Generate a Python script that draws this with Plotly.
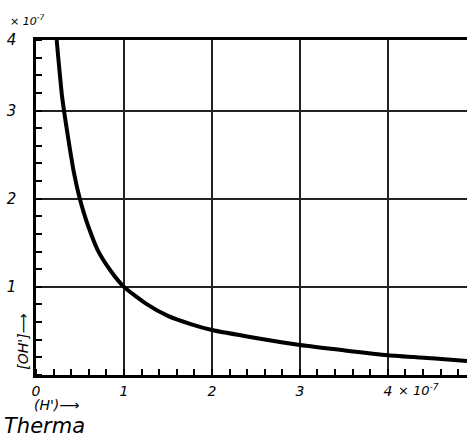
import plotly.graph_objects as go

# [H'] in units of 1e-7 and [OH'] in units of 1e-7
h_conc = [0.235, 0.255, 0.275, 0.295, 0.318, 0.37, 0.43, 0.49, 0.55, 0.6, 0.7, 0.85, 1.0,
          1.25, 1.5, 1.75, 2.0, 2.5, 3.0, 3.5, 4.0, 4.5, 4.9]
oh_conc = [3.8, 3.58, 3.37, 3.17, 3.0, 2.66, 2.3, 2.03, 1.82, 1.67, 1.42, 1.18, 1.0,
           0.81, 0.67, 0.58, 0.51, 0.42, 0.34, 0.28, 0.225, 0.19, 0.16]

x_tickvals = [0, 1, 2, 3, 4]
x_ticktext = ["0", "1", "2", "3", "4"]
y_tickvals = [1, 2, 3, 3.8]
y_ticktext = ["1", "2", "3", "4"]

FONT = "DejaVu Sans"

fig = go.Figure()
fig.add_trace(go.Scatter(
    x=h_conc, y=oh_conc, mode="lines",
    line=dict(color="black", width=4, shape="spline", smoothing=0.6),
    hoverinfo="skip", showlegend=False,
))

fig.update_layout(
    width=467, height=440,
    margin=dict(l=36, r=0, t=40, b=65, autoexpand=False),
    paper_bgcolor="white", plot_bgcolor="white",
    font=dict(family=FONT, color="black"),
    xaxis=dict(
        range=[0, 4.9], showline=True, linecolor="black", linewidth=2.5, mirror=True,
        showgrid=True, gridcolor="#222", gridwidth=1.8, zeroline=False, automargin=False,
        tickmode="array", tickvals=x_tickvals,
        ticktext=[f"<i>{t}</i>" for t in x_ticktext],
        ticks="", ticklabelstandoff=1,
        tickfont=dict(size=14, family=FONT),
        minor=dict(dtick=0.2, tick0=0, ticks="inside", ticklen=6, tickwidth=1.5,
                   tickcolor="black", showgrid=False),
    ),
    yaxis=dict(
        range=[0, 3.8], showline=True, linecolor="black", linewidth=2.5, mirror=False,
        showgrid=True, gridcolor="#222", gridwidth=1.8, zeroline=False, automargin=False,
        tickmode="array", tickvals=y_tickvals,
        ticktext=[f"<i>{t}</i>" for t in y_ticktext],
        ticks="", ticklabelstandoff=14,
        tickfont=dict(size=15, family=FONT),
        minor=dict(dtick=0.2, tick0=0, ticks="inside", ticklen=6, tickwidth=1.5,
                   tickcolor="black", showgrid=False),
    ),
)

annotations = [
    dict(text="<i>× 10<sup>-7</sup></i>", x=-0.065, y=1.0, xref="paper", yref="paper",
         xanchor="left", yanchor="bottom", yshift=10, showarrow=False,
         font=dict(size=11, family=FONT)),
    dict(text="<i>× 10<sup>-7</sup></i>", x=4.09, y=0, xref="x", yref="paper",
         xanchor="left", yanchor="top", yshift=-5, showarrow=False,
         font=dict(size=13, family=FONT)),
    dict(text="<i>[OH']</i>⟶", x=-0.032, y=0.1, xref="paper", yref="paper",
         xanchor="center", yanchor="middle", textangle=-90, showarrow=False,
         font=dict(size=14, family=FONT)),
    dict(text="<i>(H')</i>⟶", x=-0.01, y=0, xref="paper", yref="paper",
         xanchor="left", yanchor="top", yshift=-20, showarrow=False,
         font=dict(size=14, family=FONT)),
    dict(text="<i>Therma</i>", x=-0.08, y=-0.194, xref="paper", yref="paper",
         xanchor="left", yanchor="bottom", showarrow=False,
         font=dict(size=21, family=FONT)),
]
fig.update_layout(annotations=annotations)

fig.write_html("out.html", config={"displayModeBar": False},
               post_script="document.body.style.margin='0';document.body.style.overflow='hidden';")
